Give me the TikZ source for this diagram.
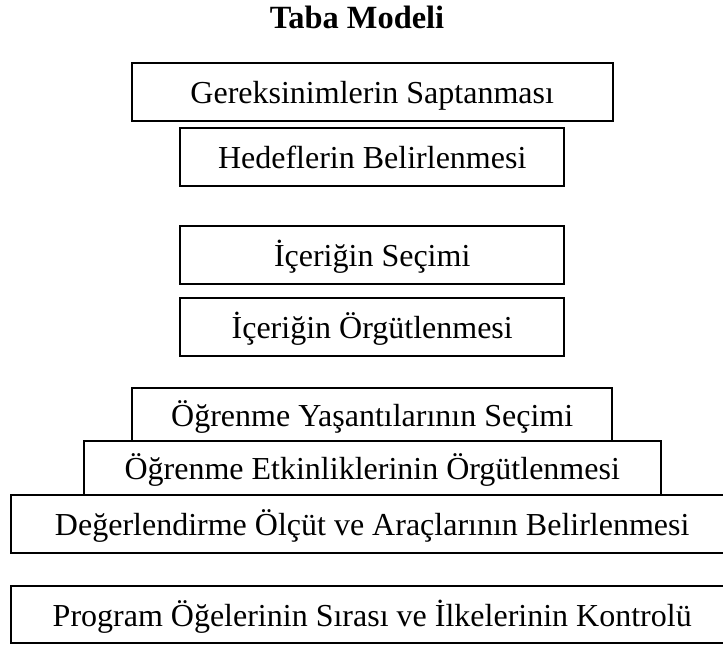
\documentclass[tikz,border=0pt]{standalone}
\usepackage{fontspec}
\setmainfont{Liberation Serif}
\usetikzlibrary{positioning}
\definecolor{stageborder}{RGB}{0, 0, 0}
\definecolor{stagecolor}{RGB}{255, 255, 255}
\tikzstyle{stage} = [rectangle, minimum width=288.2pt, minimum height=43.3pt, inner sep=0pt, outer sep=0pt,
                     text centered, text height=21.6pt, text depth=4.3pt, draw=stageborder, fill=stagecolor,
                     line width=1.5pt, font=\fontsize{24}{28}\selectfont]
\tikzstyle{title} = [font=\bfseries\fontsize{24.3}{28}\selectfont, anchor=base]

\begin{document}
\begin{tikzpicture}[x=0.75pt, y=-0.75pt]
    \useasboundingbox (0,0) rectangle (723,646);
    % Title
    \node[title] (taba) at (357,28.3) {Taba Modeli};
    
    % Stages
    \node[stage, minimum width=360.75pt] (needs) at (372.2,92.2) {Gereksinimlerin Saptanması};
    \node[stage, below=5.5pt of needs] (goals) {Hedeflerin Belirlenmesi};
    \node[stage, below=29.8pt of goals] (contentsel) {İçeriğin Seçimi};
    \node[stage, below=10.8pt of contentsel] (contentorg) {İçeriğin Örgütlenmesi};
    \node[stage, minimum width=360pt, minimum height=39.75pt, below=24.2pt of contentorg] (experiences) {Öğrenme Yaşantılarının Seçimi};
    \node[stage, minimum width=432.5pt, minimum height=40.5pt, below=0pt of experiences] (activities) {Öğrenme Etkinliklerinin Örgütlenmesi};
    \node[stage, minimum width=541.5pt, below=0pt of activities] (evaluation) {Değerlendirme Ölçüt ve Araçlarının Belirlenmesi};
    \node[stage, minimum width=541.5pt, below=24.75pt of evaluation] (control) {Program Öğelerinin Sırası ve İlkelerinin Kontrolü};
\end{tikzpicture}
\end{document}
